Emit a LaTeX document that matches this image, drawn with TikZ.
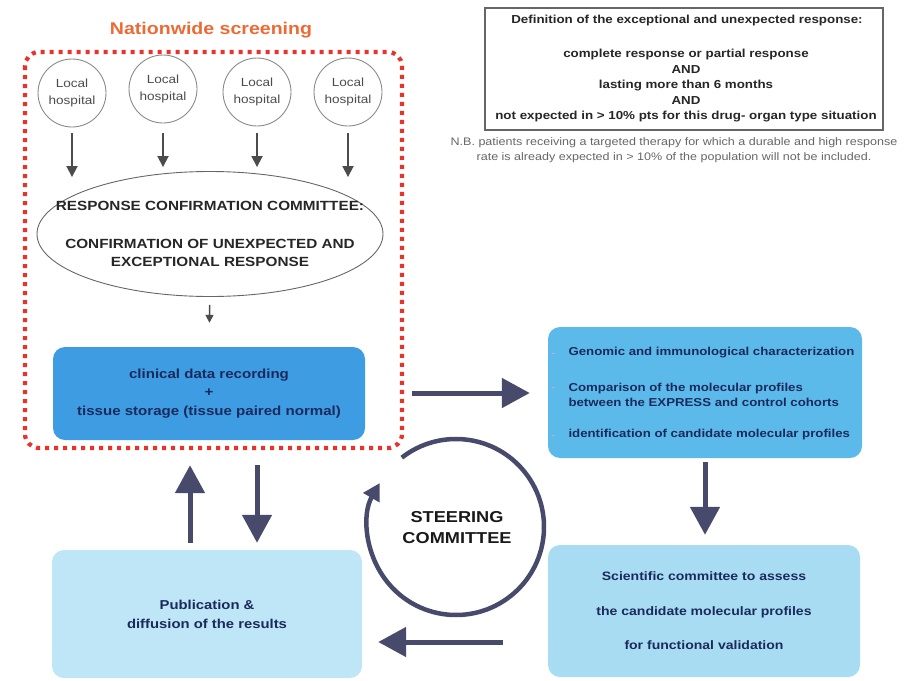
\documentclass[tikz,border=0pt]{standalone}
\usepackage{fontspec}
\setmainfont[FakeStretch=1.15]{Liberation Sans}
\usetikzlibrary{shapes.geometric,arrows.meta,calc}

\definecolor{redline}{HTML}{E8322A}
\definecolor{orangetitle}{HTML}{EE6A35}
\definecolor{arrowdark}{HTML}{474A6B}
\definecolor{navytext}{HTML}{1B2A5C}
\definecolor{boxA}{HTML}{3D9CE2}
\definecolor{boxB}{HTML}{5CBAEA}
\definecolor{boxC}{HTML}{A8DCF2}
\definecolor{boxD}{HTML}{BEE6F6}
\definecolor{hospgray}{HTML}{8A8A8A}

\newcommand{\fs}[2]{\fontsize{#1}{#2}\selectfont}

\tikzset{
  hospital/.style={circle, draw=hospgray, line width=0.9pt, minimum size=68pt,
    inner sep=0pt, align=center, font=\fs{11.8}{17}, text=black!70},
  thinarrow/.style={draw=black!70, line width=1.8pt,
    -{Triangle[width=11pt,length=11pt]}},
  bigarrow/.style={draw=arrowdark, line width=5pt,
    -{Triangle[width=29pt,length=28pt]}},
  bluebox/.style={rounded corners=12pt, draw=none, inner sep=0pt,
    text=navytext, align=center},
  deftext/.style={font=\bfseries\fs{11.6}{15.5}, text=black!85, align=center},
  bullet/.style={draw=navytext!35, line width=0.8pt},
}

\begin{document}
\begin{tikzpicture}[x=1pt,y=-1pt]
\useasboundingbox (0,0) rectangle (910,680);

% title of the screening area
\node[font=\bfseries\fs{17}{20}, text=orangetitle] (title) at (211,30) {Nationwide screening};

% dotted frame of the screening area
\draw[redline, line width=4.2pt, dash pattern=on 4pt off 5pt, rounded corners=14pt]
  (25,52) rectangle (402,448);

% local hospitals
\node[hospital] (h1) at (72,93)  {Local\\hospital};
\node[hospital] (h2) at (163,89) {Local\\hospital};
\node[hospital] (h3) at (257,92) {Local\\hospital};
\node[hospital] (h4) at (348,92) {Local\\hospital};

% response confirmation committee: outline and its wording
\node[ellipse, draw=black!60, line width=0.9pt, minimum width=346pt, minimum height=125pt,
      inner sep=0pt] (rcc) at (210,234) {};
\node[align=center, font=\bfseries\fs{13.3}{18}, text=black!85] (rcctext) at (rcc.center)
  {RESPONSE CONFIRMATION COMMITTEE:\\[20pt]
   CONFIRMATION OF UNEXPECTED AND\\EXCEPTIONAL RESPONSE};

% hospitals report to the committee
\draw[thinarrow, shorten <=6pt, shorten >=-6pt] (h1) -- (h1 |- rcc.north);
\draw[thinarrow, shorten <=10pt, shorten >=4pt] (h2) -- (h2 |- rcc.north);
\draw[thinarrow, shorten <=7pt, shorten >=4pt] (h3) -- (h3 |- rcc.north);
\draw[thinarrow, shorten <=7pt, shorten >=-6pt] (h4) -- (h4 |- rcc.north);

% clinical data and tissue storage
\node[bluebox, fill=boxA, minimum width=312pt, minimum height=93pt,
      font=\bfseries\fs{13.1}{18.5}] (clin) at (209,393.5)
  {clinical data recording\\+\\tissue storage (tissue paired normal)};

\draw[draw=black!70, line width=1.5pt, -{Triangle[width=8pt,length=8pt]},
      shorten <=8pt, shorten >=24pt] (rcc) -- (clin);

% molecular characterization
\node[bluebox, fill=boxB, minimum width=314pt, minimum height=131pt] (gen) at (705,392.5) {};
\node[anchor=west, font=\bfseries\fs{11.5}{15}, text=navytext] (g1) at (565,353)
  {Genomic and immunological characterization};
\node[anchor=west, font=\bfseries\fs{11.5}{15}, text=navytext, align=left] (g2) at (565,394.5)
  {Comparison of the molecular profiles\\between the EXPRESS and control cohorts};
\node[anchor=west, font=\bfseries\fs{11.5}{15}, text=navytext] (g3) at (565,435)
  {identification of candidate molecular profiles};
\foreach \n in {g1,g3} \draw[bullet] ([xshift=-13pt]\n.west) -- ++(3,0);
\draw[bullet] ([xshift=-13pt,yshift=7.5pt]g2.west) -- ++(3,0);

% scientific committee
\node[bluebox, fill=boxC, minimum width=312pt, minimum height=132pt,
      font=\bfseries\fs{12.2}{17}] (sci) at (704,611)
  {Scientific committee to assess\\[17.5pt]the candidate molecular profiles\\[17.5pt]for functional validation};

% publication
\node[bluebox, fill=boxD, minimum width=310pt, minimum height=128pt,
      font=\bfseries\fs{12.9}{19}] (pub) at (207,614)
  {Publication \&\\diffusion of the results};

% steering committee
\coordinate (sc) at (456,527);
\node[font=\bfseries\fs{15.8}{21}, align=center, text=black!90] (steer) at (457,527.5)
  {STEERING\\COMMITTEE};
\draw[arrowdark, line width=4.5pt, -{Triangle[width=18pt,length=17pt]}]
  (sc) ++(128:88pt) arc[start angle=128, end angle=-210, radius=88pt];

% main flow
\coordinate (flowtop) at (0,393);
\coordinate (flowbot) at (0,642);
\draw[bigarrow, shorten <=47pt, shorten >=18pt] (clin.east |- flowtop) -- (gen.west |- flowtop);
\draw[bigarrow, shorten <=4pt, shorten >=10pt] (gen.south) -- (gen.south |- sci.north);
\draw[bigarrow, shorten <=45pt, shorten >=16pt] (sci.west |- flowbot) -- (pub.east |- flowbot);
\draw[bigarrow, shorten <=7pt, shorten >=25pt] (pub.north -| 190,0) -- (clin.south -| 190,0);
\draw[bigarrow, shorten <=25pt, shorten >=7pt] (clin.south -| 257,0) -- (pub.north -| 257,0);

% definition box
\node[draw=black!60, line width=1.2pt, minimum width=398pt, minimum height=122pt,
      inner sep=0pt] (defbox) at (684,69) {};
\node[deftext] (d0) at (687,21) {Definition of the exceptional and unexpected response:};
\node[deftext] (d1) at (686,86)
  {complete response or partial response\\AND\\lasting more than 6 months\\AND\\
   not expected in > 10\% pts for this drug- organ type situation};

\node[align=center, font=\fs{10.9}{14.5}, text=black!60] (nb) at (674,150)
  {N.B. patients receiving a targeted therapy for which a durable and high response\\
   rate is already expected in > 10\% of the population will not be included.};
\end{tikzpicture}
\end{document}
